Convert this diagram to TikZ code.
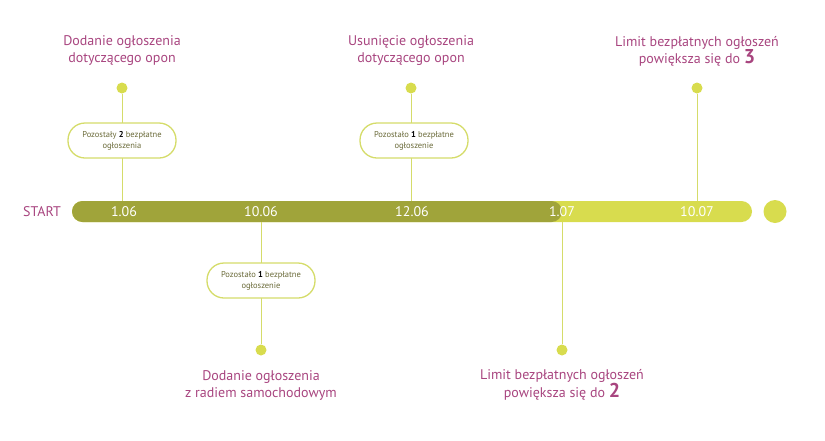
\documentclass[tikz,border=0pt]{standalone}
\usepackage{fontspec}
\setmainfont{PT Sans}
\definecolor{dk}{HTML}{A0A43A}
\definecolor{lt}{HTML}{D8DC4E}
\definecolor{ln}{HTML}{D5DC6A}
\definecolor{pu}{HTML}{A8457F}
\definecolor{tx}{HTML}{6B6B3A}
\begin{document}
\begin{tikzpicture}[x=1pt,y=-1pt,
 title/.style={text=pu,font=\fontsize{14}{17}\selectfont,align=center},
 pill/.style={draw=ln,line width=1.3pt,rounded corners=17pt,minimum width=108pt,minimum height=35pt,align=center,font=\fontsize{8.5}{11}\selectfont,text=tx,fill=white},
 dot/.style={circle,fill=lt,inner sep=0pt,minimum size=11pt},
 stem/.style={draw=ln,line width=1pt},
 dte/.style={text=white,font=\fontsize{14}{16}\selectfont}]
\useasboundingbox (0,0) rectangle (825,440);
% bar
\fill[lt,rounded corners=10.5pt] (72,201) rectangle (752,222);
\fill[dk,rounded corners=10.5pt] (72,201) rectangle (562,222);
\node[circle,fill=lt,inner sep=0pt,minimum size=23pt] (end) at (775,211.5) {};
\node[text=pu,font=\fontsize{14}{16}\selectfont] (start) at (42,211.5) {START};
\coordinate (b1) at (122,201);
\coordinate (b2) at (261,222);
\coordinate (b3) at (411,201);
\coordinate (b4) at (562,222);
\coordinate (b5) at (697,201);
% stems
\node[dot] (d1) at (122,88) {};
\node[dot] (d2) at (261,350) {};
\node[dot] (d3) at (411,88) {};
\node[dot] (d4) at (562,350) {};
\node[dot] (d5) at (697,88) {};
\draw[stem] (d1) -- (b1);
\draw[stem] (d2) -- (b2);
\draw[stem] (d3) -- (b3);
\draw[stem] (d4) -- (b4);
\draw[stem] (d5) -- (b5);
\node[pill] (p1) at (122,140.5) {Pozostały {\bfseries\color{black}2} bezpłatne\\ogłoszenia};
\node[pill] (p3) at (414,140.5) {Pozostało {\bfseries\color{black}1} bezpłatne\\ogłoszenie};
\node[pill] (p2) at (261,280.5) {Pozostało {\bfseries\color{black}1} bezpłatne\\ogłoszenie};
% dates
\node[dte] (t1) at (124,211.5) {1.06};
\node[dte] (t2) at (261,211.5) {10.06};
\node[dte] (t3) at (412,211.5) {12.06};
\node[dte] (t4) at (562,211.5) {1.07};
\node[dte] (t5) at (697,211.5) {10.07};
% titles
\node[title] (h1) at (122,51) {Dodanie ogłoszenia\\dotyczącego opon};
\node[title] (h3) at (411,51) {Usunięcie ogłoszenia\\dotyczącego opon};
\node[title] (h5) at (697,51) {Limit bezpłatnych ogłoszeń\\powiększa się do {\fontsize{20}{17}\selectfont\bfseries 3}};
\node[title] (h2) at (261,385) {Dodanie ogłoszenia\\z radiem samochodowym};
\node[title] (h4) at (562,385) {Limit bezpłatnych ogłoszeń\\powiększa się do {\fontsize{20}{17}\selectfont\bfseries 2}};
\end{tikzpicture}
\end{document}
